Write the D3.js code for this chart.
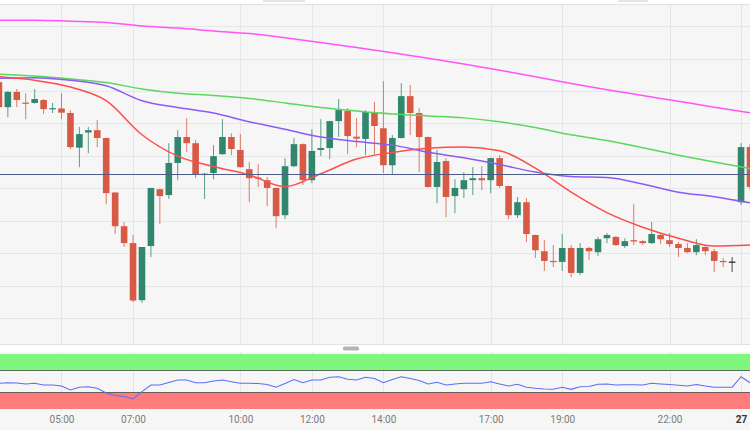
<!DOCTYPE html>
<html>
<head>
<meta charset="utf-8">
<script src="https://cdn.jsdelivr.net/npm/d3@7"></script>
<style>
  html, body { margin: 0; padding: 0; background: #fff; }
  svg { display: block; font-family: Roboto, "Open Sans", sans-serif; }
</style>
</head>
<body>
<svg width="750" height="430"></svg>
<script>
// 15 minute candles, first one 26th 03:15
var candleStart = Date.UTC(2024, 1, 26, 3, 15);
var candleStep = 15 * 60 * 1000;

var open = [82.7,75.0,79.7,76.4,76.3,77.2,74.4,74.6,73.2,62.5,
  67.2,67.9,65.5,48.7,38.3,33.1,15.5,32.2,49.7,47.9,
  57.8,65.8,63.9,54.1,54.7,60.5,65.8,61.8,55.9,53.3,
  52.5,50.1,41.7,56.8,63.6,52.5,61.8,62.4,70.7,73.8,
  65.9,65.2,73.5,68.5,57.1,65.5,78.4,73.2,65.8,50.4,
  58.4,47.6,49.7,52.5,53.1,52.5,59.3,50.7,41.7,45.7,
  35.6,30.6,27.6,27.3,31.6,23.9,31.6,30.3,34.6,35.0,
  32.2,34.0,33.7,33.1,35.6,34.0,32.8,31.6,30.3,31.9,
  30.6,27.6,27.4,45.7,62.7];
var high = [83.4,80.0,80.6,79.3,80.6,77.5,76.3,79.3,74.1,68.9,
  68.9,71.0,65.6,48.8,39.6,35.6,31.9,50.1,49.9,63.9,
  67.9,71.6,64.9,54.7,63.3,71.3,67.0,66.7,58.1,57.5,
  53.5,50.2,59.3,65.5,63.8,68.2,71.3,70.8,77.5,74.7,
  71.6,74.1,76.6,83.0,66.4,82.4,81.8,74.7,65.9,61.8,
  59.3,52.8,55.0,56.5,56.8,59.4,60.2,50.8,47.3,47.0,
  35.7,34.0,32.5,35.9,32.5,33.1,32.0,35.0,36.2,35.3,
  34.6,45.1,34.0,39.6,36.2,36.2,33.4,33.1,34.3,32.5,
  31.3,28.5,28.8,63.9,63.6];
var low = [74.7,71.9,75.0,71.3,76.1,72.9,73.2,71.3,62.1,56.5,
  60.8,62.7,45.1,35.9,31.9,14.9,14.6,28.8,39.0,46.7,
  52.5,61.2,53.1,46.7,52.8,60.4,60.2,56.4,45.7,50.4,
  44.5,37.7,40.5,56.5,51.0,51.6,59.9,59.0,65.8,60.5,
  62.7,60.2,60.5,54.7,54.1,65.3,66.4,55.0,50.2,45.4,
  41.1,42.3,47.0,47.9,49.4,48.5,50.1,40.5,40.8,33.4,
  28.5,24.5,25.7,24.5,22.6,23.2,27.9,29.1,33.1,32.2,
  31.6,32.5,32.5,32.8,32.8,31.9,28.8,30.0,29.4,29.4,
  24.2,25.7,24.2,44.8,49.4];
var close = [75.0,79.7,77.2,76.1,77.5,74.4,74.7,73.3,62.7,66.7,
  67.9,65.5,48.5,38.3,33.1,15.4,31.9,50.1,47.6,57.8,
  65.8,63.9,54.1,54.5,59.9,65.8,62.1,56.5,53.1,53.0,
  50.1,41.4,56.8,63.6,52.5,61.5,62.4,70.7,74.1,66.1,
  65.3,73.5,69.2,57.1,65.5,78.4,73.2,65.8,50.4,58.1,
  47.3,50.1,52.5,53.1,52.5,59.3,50.7,41.7,45.7,35.9,
  30.9,27.6,27.3,31.6,23.9,31.6,30.6,34.3,35.6,32.5,
  33.7,33.6,33.1,35.9,34.3,32.8,31.6,30.3,32.5,30.6,
  27.6,27.3,27.4,62.7,50.4];

// moving averages, read once an hour (every 4th candle)
var maRed = [84.4,83.3,81.2,77.0,66.5,59.9,56.7,54.1,50.5,54.5,59.0,61.0,62.3,62.7,61.6,56.2,48.8,42.5,38.0,34.6,32.2,32.5];
var maPurple = [83.9,84.1,83.3,81.6,77.0,74.9,73.2,70.5,68.2,65.8,64.4,63.3,61.1,59.4,57.3,55.0,53.6,53.3,51.3,48.8,47.4,45.5];
var maGreen = [85.2,84.6,83.7,82.6,80.6,79.3,78.6,77.7,76.3,74.9,73.8,72.9,72.3,71.7,70.5,68.7,66.5,64.7,62.5,60.2,58.1,56.1];
var maPink = [101.8,101.8,101.5,101.1,100.0,99.4,98.5,97.7,96.4,94.9,93.4,91.8,90.1,88.3,86.4,84.4,82.3,80.4,78.6,76.8,75.0,73.3];
var maEvery = 4;

var refLevel = 54.4;

// oscillator in the lower pane
var rsi = [46.7,47.8,47.3,45.5,46.7,43.6,43.6,41.8,34.5,39.5,
  40.5,37.6,29.1,24.5,22.7,18.2,31.5,43.6,43.6,48.2,
  52.7,52.7,47.8,47.8,50.9,52.7,49.6,46.7,46.7,46.4,
  44.5,39.5,46.4,53.6,47.8,52.7,52.7,57.6,58.7,54.0,
  52.7,57.6,55.5,47.8,53.6,58.7,55.5,51.8,45.5,48.5,
  43.6,45.5,46.7,46.7,46.7,49.6,45.5,41.8,44.9,39.5,
  37.6,36.4,35.8,39.5,35.8,40.5,40.9,44.9,45.5,43.6,
  44.2,44.2,43.6,46.7,45.5,44.5,43.1,41.8,44.5,41.8,
  39.5,39.5,39.5,58.7,47.8];
var rsiHigh = 70, rsiLow = 30;

var tickTimes = [
  Date.UTC(2024,1,26,5), Date.UTC(2024,1,26,7), Date.UTC(2024,1,26,10),
  Date.UTC(2024,1,26,12), Date.UTC(2024,1,26,14), Date.UTC(2024,1,26,17),
  Date.UTC(2024,1,26,19), Date.UTC(2024,1,26,22), Date.UTC(2024,1,27,0)];
var tickLabels = ["05:00","07:00","10:00","12:00","14:00","17:00","19:00","22:00","27"];

var svg = d3.select("svg"),
    width = +svg.attr("width"),
    height = +svg.attr("height");

var candles = open.map(function (o, i) {
  return { t: new Date(candleStart + i * candleStep), o: o, h: high[i], l: low[i], c: close[i] };
});

var x = d3.scaleUtc()
    .domain([new Date(Date.UTC(2024,1,26,3,16,50)), new Date(Date.UTC(2024,1,27,0,15))])
    .range([0, width]);
var y = d3.scaleLinear().domain([2, 106.8]).range([344, 4]);
var yr = d3.scaleLinear().domain([0, 100]).range([409, 354]);

// top strip (toolbar cut off)
svg.append("rect").attr("x", 0).attr("y", 0).attr("width", width).attr("height", 4).attr("fill", "#fff");
[[263, 42], [618, 30]].forEach(function (b) {
  svg.append("rect").attr("x", b[0]).attr("y", 0).attr("width", b[1]).attr("height", 2).attr("fill", "#e4e4e4");
});

// main pane
svg.append("rect").attr("x", 0).attr("y", 4).attr("width", width).attr("height", 340).attr("fill", "#f6f6f6");
svg.append("line").attr("x1", 0).attr("x2", width).attr("y1", 4.5).attr("y2", 4.5)
    .attr("stroke", "#dde2ea").attr("stroke-width", 1);

svg.append("g")
  .selectAll("line")
  .data(y.ticks(10))
  .join("line")
  .attr("x1", 0).attr("x2", width)
  .attr("y1", function (d) { return Math.round(y(d)) + 0.5; })
  .attr("y2", function (d) { return Math.round(y(d)) + 0.5; })
  .attr("stroke", "#e6e6e6");

svg.append("g")
  .selectAll("line")
  .data(tickTimes)
  .join("line")
  .attr("x1", function (d) { return Math.round(x(d)) + 0.5; })
  .attr("x2", function (d) { return Math.round(x(d)) + 0.5; })
  .attr("y1", 5).attr("y2", 344)
  .attr("stroke", "#e6e6e6");

// candles
var bodyW = 6.6;
var upCol = "#31876e", downCol = "#d85a45", flatCol = "#222";
function candleCol(d) { return d.c > d.o ? upCol : (d.c < d.o ? downCol : flatCol); }

var cg = svg.append("g");
cg.selectAll(".wick")
  .data(candles)
  .join("line")
  .attr("class", "wick")
  .attr("x1", function (d) { return x(d.t); })
  .attr("x2", function (d) { return x(d.t); })
  .attr("y1", function (d) { return y(d.h); })
  .attr("y2", function (d) { return y(d.l); })
  .attr("stroke", candleCol)
  .attr("stroke-opacity", 0.8)
  .attr("stroke-width", 1);
cg.selectAll(".body")
  .data(candles)
  .join("rect")
  .attr("class", "body")
  .attr("x", function (d) { return x(d.t) - bodyW / 2; })
  .attr("y", function (d) { return y(Math.max(d.o, d.c)); })
  .attr("width", bodyW)
  .attr("height", function (d) { return Math.max(1.2, Math.abs(y(d.o) - y(d.c))); })
  .attr("fill", candleCol);

// moving averages
var maLine = d3.line()
    .x(function (d, i) { return x(new Date(candleStart + i * maEvery * candleStep)); })
    .y(function (d) { return y(d); })
    .curve(d3.curveMonotoneX);
[[maPink, "#ff55f5"], [maGreen, "#5cd65c"], [maPurple, "#8a5cf5"], [maRed, "#ff4d4d"]].forEach(function (m) {
  svg.append("path")
    .datum(m[0])
    .attr("d", maLine)
    .attr("fill", "none")
    .attr("stroke", m[1])
    .attr("stroke-width", 1.5);
});

// reference level
svg.append("line")
  .attr("x1", 0).attr("x2", width)
  .attr("y1", Math.round(y(refLevel)) + 0.5).attr("y2", Math.round(y(refLevel)) + 0.5)
  .attr("stroke", "#4c5e88").attr("stroke-width", 1.2);

// pane separator
svg.append("rect").attr("x", 0).attr("y", 344).attr("width", width).attr("height", 8).attr("fill", "#fff");
svg.append("line").attr("x1", 0).attr("x2", width).attr("y1", 344.5).attr("y2", 344.5).attr("stroke", "#dde2ea");
svg.append("rect").attr("x", 343).attr("y", 346.5).attr("width", 16).attr("height", 4).attr("rx", 1.5)
    .attr("fill", "#b4b4b4");

// lower pane
svg.append("rect").attr("x", 0).attr("y", 352).attr("width", width).attr("height", height - 352).attr("fill", "#f6f6f6");
svg.append("g")
  .selectAll("line")
  .data(tickTimes)
  .join("line")
  .attr("x1", function (d) { return Math.round(x(d)) + 0.5; })
  .attr("x2", function (d) { return Math.round(x(d)) + 0.5; })
  .attr("y1", 352).attr("y2", 412)
  .attr("stroke", "#e6e6e6");

svg.append("rect").attr("x", 0).attr("y", yr(100)).attr("width", width)
    .attr("height", yr(rsiHigh) - yr(100)).attr("fill", "#7ff77f");
svg.append("rect").attr("x", 0).attr("y", yr(rsiLow)).attr("width", width)
    .attr("height", yr(0) - yr(rsiLow)).attr("fill", "#ff7c7c");
[rsiHigh, rsiLow].forEach(function (v) {
  svg.append("line").attr("x1", 0).attr("x2", width)
    .attr("y1", yr(v)).attr("y2", yr(v))
    .attr("stroke", "#3c3c3c").attr("stroke-opacity", 0.75).attr("stroke-width", 1);
});

svg.append("path")
  .datum(rsi)
  .attr("d", d3.line()
    .x(function (d, i) { return x(candles[i].t); })
    .y(function (d) { return yr(d); }))
  .attr("fill", "none")
  .attr("stroke", "#5c6ff5")
  .attr("stroke-width", 1.1);

// time axis
var xAxis = svg.append("g")
  .attr("transform", "translate(0,413)")
  .call(d3.axisBottom(x)
    .tickValues(tickTimes.map(function (t) { return new Date(t); }))
    .tickFormat(function (d, i) { return tickLabels[i]; })
    .tickSize(0)
    .tickPadding(3));
xAxis.select(".domain").remove();
xAxis.selectAll("text")
  .attr("fill", "#7b7b7b")
  .style("font-size", "10px")
  .style("font-family", "Roboto, 'Open Sans', sans-serif")
  .style("font-weight", function (d) { return d.getUTCHours() === 0 ? "bold" : "normal"; })
  .attr("fill", function (d) { return d.getUTCHours() === 0 ? "#333" : "#7b7b7b"; });
</script>
</body>
</html>
